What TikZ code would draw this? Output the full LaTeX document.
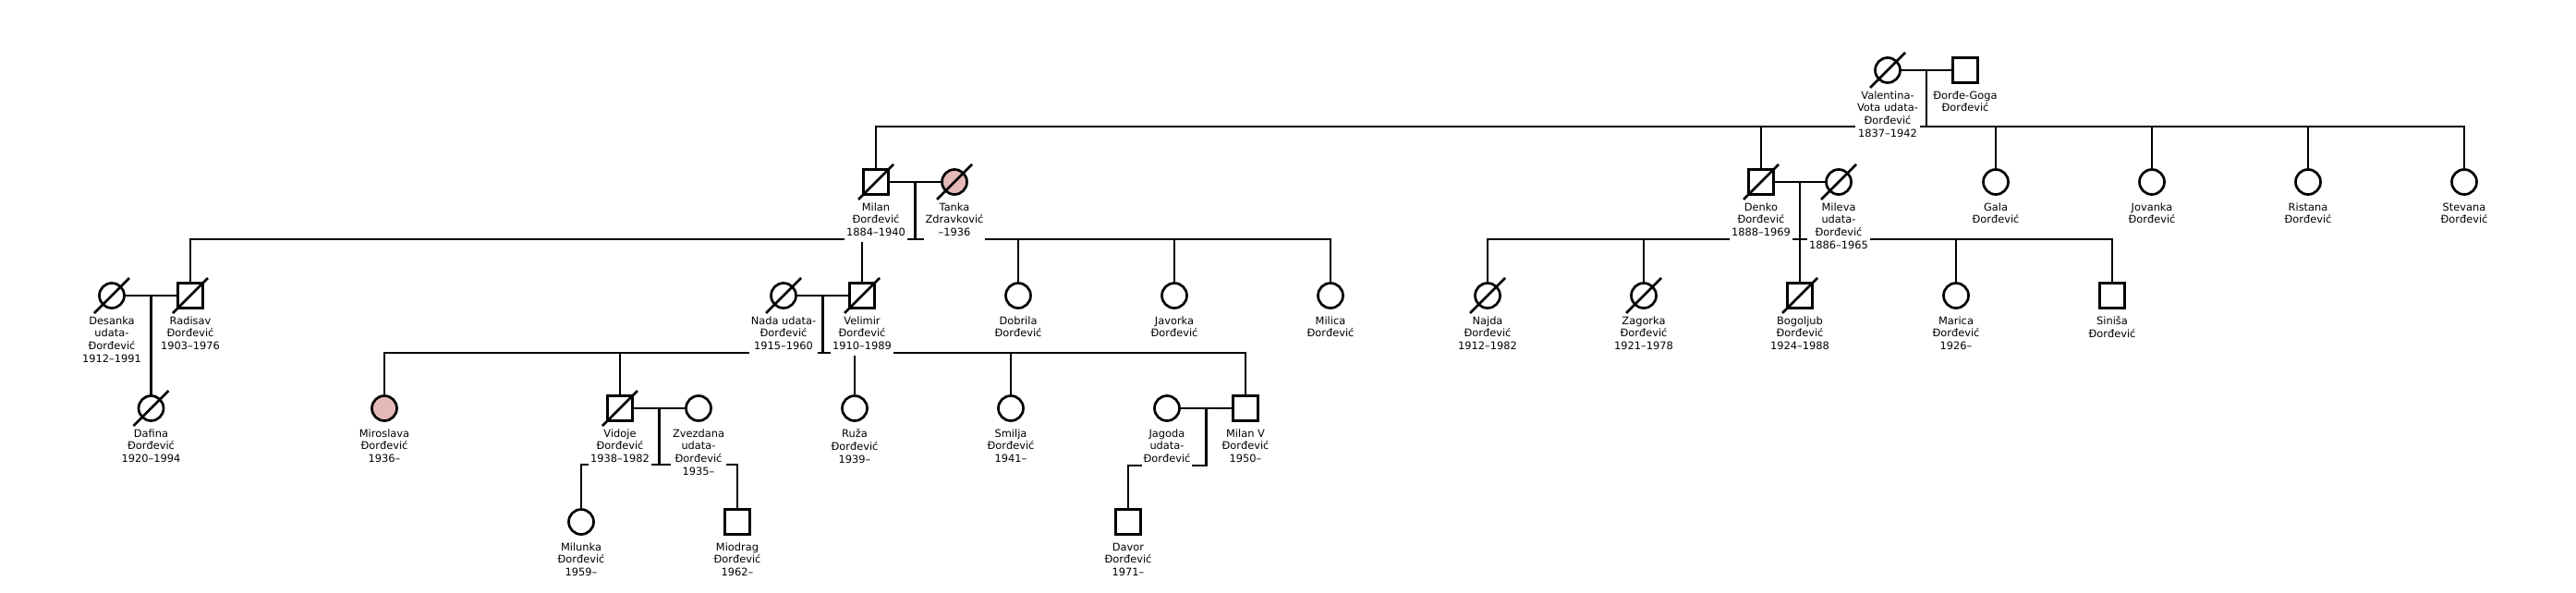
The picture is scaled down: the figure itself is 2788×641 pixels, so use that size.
\documentclass[tikz,border=0pt]{standalone}
\usepackage{fontspec}
\usetikzlibrary{calc}
\newfontfamily\lblfont{DejaVu Sans}
\definecolor{pinkfill}{RGB}{230,185,185}
\newcommand\deceased[1]{\draw[ln] ([shift={(-19,19)}]#1.center) -- ([shift={(19,-19)}]#1.center);}
\begin{document}
\begin{tikzpicture}[x=1pt,y=-1pt,
  ln/.style={line width=2.7pt},
  sym/.style={draw, line width=2.7pt, outer sep=0pt, inner sep=0pt, minimum size=27pt, fill=white},
  male/.style={sym, rectangle},
  female/.style={sym, circle},
  pinkf/.style={fill=pinkfill},
  lbl/.style={fill=white, inner sep=2pt, align=center, anchor=north, font=\lblfont\fontsize{11.4}{13.6}\selectfont}]
\fill[white] (0,0) rectangle (2788,641);
\useasboundingbox (0,0) rectangle (2788,641);
% sibship line levels
\coordinate (s1) at (0,137);
\coordinate (s2) at (0,259);
\coordinate (s3) at (0,382);
\coordinate (s4) at (0,503);
\coordinate (s4b) at (0,504);
% row 1
\node[female] (val) at (2043,76) {};
\node[male] (dor) at (2127,76) {};
% row 2
\node[male] (milan) at (948,197) {};
\node[female,pinkf] (tanka) at (1033,197) {};
\node[male] (denko) at (1906,197) {};
\node[female] (mileva) at (1990,197) {};
\node[female] (gala) at (2160,197) {};
\node[female] (jovanka) at (2329,197) {};
\node[female] (ristana) at (2498,197) {};
\node[female] (stevana) at (2667,197) {};
% row 3
\node[female] (desanka) at (121,320) {};
\node[male] (radisav) at (206,320) {};
\node[female] (nada) at (848,320) {};
\node[male] (velimir) at (933,320) {};
\node[female] (dobrila) at (1102,320) {};
\node[female] (javorka) at (1271,320) {};
\node[female] (milica) at (1440,320) {};
\node[female] (najda) at (1610,320) {};
\node[female] (zagorka) at (1779,320) {};
\node[male] (bogoljub) at (1948,320) {};
\node[female] (marica) at (2117,320) {};
\node[male] (sinisa) at (2286,320) {};
% row 4
\node[female] (dafina) at (163.5,442) {};
\node[female,pinkf] (miroslava) at (416,442) {};
\node[male] (vidoje) at (671,442) {};
\node[female] (zvezdana) at (756,442) {};
\node[female] (ruza) at (925,442) {};
\node[female] (smilja) at (1094,442) {};
\node[female] (jagoda) at (1263,442) {};
\node[male] (milanv) at (1348,442) {};
% row 5
\node[female] (milunka) at (629,565) {};
\node[male] (miodrag) at (798,565) {};
\node[male] (davor) at (1221,565) {};
% deceased marks
\deceased{val}\deceased{milan}\deceased{tanka}\deceased{denko}\deceased{mileva}
\deceased{desanka}\deceased{radisav}\deceased{nada}\deceased{velimir}
\deceased{najda}\deceased{zagorka}\deceased{bogoljub}\deceased{dafina}\deceased{vidoje}
% connectors
\begin{scope}[ln]
\draw (val) -- (dor);
\coordinate (mA) at ($(val.east)!0.5!(dor.west)$);
\draw (mA) -- (mA |- s1);
\draw (milan.north) |- (stevana.north |- s1) -- (stevana.north);
\foreach \p in {denko,gala,jovanka,ristana} \draw (\p.north) -- (\p.north |- s1);
\draw (milan) -- (tanka);
\coordinate (mB) at ($(milan.east)!0.5!(tanka.west)$);
\draw (mB) -- (mB |- s2);
\draw (radisav.north) |- (milica.north |- s2) -- (milica.north);
\foreach \p in {velimir,dobrila,javorka} \draw (\p.north) -- (\p.north |- s2);
\draw (denko) -- (mileva);
\coordinate (mC) at ($(denko.east)!0.5!(mileva.west)$);
\draw (mC) -- (bogoljub.north);
\draw (najda.north) |- (sinisa.north |- s2) -- (sinisa.north);
\foreach \p in {zagorka,marica} \draw (\p.north) -- (\p.north |- s2);
\draw (desanka) -- (radisav);
\coordinate (mD) at ($(desanka.east)!0.5!(radisav.west)$);
\draw (mD) -- (dafina.north);
\draw (nada) -- (velimir);
\coordinate (mE) at ($(nada.east)!0.5!(velimir.west)$);
\draw (mE) -- (mE |- s3);
\draw (miroslava.north) |- (milanv.north |- s3) -- (milanv.north);
\foreach \p in {vidoje,ruza,smilja} \draw (\p.north) -- (\p.north |- s3);
\draw (vidoje) -- (zvezdana);
\coordinate (mF) at ($(vidoje.east)!0.5!(zvezdana.west)$);
\draw (mF) -- (mF |- s4);
\draw (milunka.north) |- (miodrag.north |- s4) -- (miodrag.north);
\draw (jagoda) -- (milanv);
\coordinate (mG) at ($(jagoda.east)!0.5!(milanv.west)$);
\draw (mG) -- (mG |- s4b) -| (davor.north);
\end{scope}
% labels
\node[lbl] (l-val) at ([yshift=-7pt]val.south) {Valentina-\\Vota udata-\\Đorđević\\1837–1942\strut};
\node[lbl] (l-dor) at ([yshift=-7pt]dor.south) {Đorđe-Goga\\Đorđević\strut};
\node[lbl] (l-milan) at ([yshift=-7pt]milan.south) {Milan\\Đorđević\\1884–1940\strut};
\node[lbl] (l-tanka) at ([yshift=-7pt]tanka.south) {Tanka\\Zdravković\\–1936\strut};
\node[lbl] (l-denko) at ([yshift=-7pt]denko.south) {Denko\\Đorđević\\1888–1969\strut};
\node[lbl] (l-mileva) at ([yshift=-7pt]mileva.south) {Mileva\\udata-\\Đorđević\\1886–1965\strut};
\node[lbl] (l-gala) at ([yshift=-7pt]gala.south) {Gala\\Đorđević\strut};
\node[lbl] (l-jovanka) at ([yshift=-7pt]jovanka.south) {Jovanka\\Đorđević\strut};
\node[lbl] (l-ristana) at ([yshift=-7pt]ristana.south) {Ristana\\Đorđević\strut};
\node[lbl] (l-stevana) at ([yshift=-7pt]stevana.south) {Stevana\\Đorđević\strut};
\node[lbl] (l-desanka) at ([yshift=-7pt]desanka.south) {Desanka\\udata-\\Đorđević\\1912–1991\strut};
\node[lbl] (l-radisav) at ([yshift=-7pt]radisav.south) {Radisav\\Đorđević\\1903–1976\strut};
\node[lbl] (l-nada) at ([yshift=-7pt]nada.south) {Nada udata-\\Đorđević\\1915–1960\strut};
\node[lbl] (l-velimir) at ([yshift=-7pt]velimir.south) {Velimir\\Đorđević\\1910–1989\strut};
\node[lbl] (l-dobrila) at ([yshift=-7pt]dobrila.south) {Dobrila\\Đorđević\strut};
\node[lbl] (l-javorka) at ([yshift=-7pt]javorka.south) {Javorka\\Đorđević\strut};
\node[lbl] (l-milica) at ([yshift=-7pt]milica.south) {Milica\\Đorđević\strut};
\node[lbl] (l-najda) at ([yshift=-7pt]najda.south) {Najda\\Đorđević\\1912–1982\strut};
\node[lbl] (l-zagorka) at ([yshift=-7pt]zagorka.south) {Zagorka\\Đorđević\\1921–1978\strut};
\node[lbl] (l-bogoljub) at ([yshift=-7pt]bogoljub.south) {Bogoljub\\Đorđević\\1924–1988\strut};
\node[lbl] (l-marica) at ([yshift=-7pt]marica.south) {Marica\\Đorđević\\1926–\strut};
\node[lbl] (l-sinisa) at ([yshift=-7pt]sinisa.south) {Siniša\\Đorđević\strut};
\node[lbl] (l-dafina) at ([yshift=-7pt]dafina.south) {Dafina\\Đorđević\\1920–1994\strut};
\node[lbl] (l-miroslava) at ([yshift=-7pt]miroslava.south) {Miroslava\\Đorđević\\1936–\strut};
\node[lbl] (l-vidoje) at ([yshift=-7pt]vidoje.south) {Vidoje\\Đorđević\\1938–1982\strut};
\node[lbl] (l-zvezdana) at ([yshift=-7pt]zvezdana.south) {Zvezdana\\udata-\\Đorđević\\1935–\strut};
\node[lbl] (l-ruza) at ([yshift=-7pt]ruza.south) {Ruža\\Đorđević\\1939–\strut};
\node[lbl] (l-smilja) at ([yshift=-7pt]smilja.south) {Smilja\\Đorđević\\1941–\strut};
\node[lbl] (l-jagoda) at ([yshift=-7pt]jagoda.south) {Jagoda\\udata-\\Đorđević\strut};
\node[lbl] (l-milanv) at ([yshift=-7pt]milanv.south) {Milan V\\Đorđević\\1950–\strut};
\node[lbl] (l-milunka) at ([yshift=-7pt]milunka.south) {Milunka\\Đorđević\\1959–\strut};
\node[lbl] (l-miodrag) at ([yshift=-7pt]miodrag.south) {Miodrag\\Đorđević\\1962–\strut};
\node[lbl] (l-davor) at ([yshift=-7pt]davor.south) {Davor\\Đorđević\\1971–\strut};
\end{tikzpicture}
\end{document}
